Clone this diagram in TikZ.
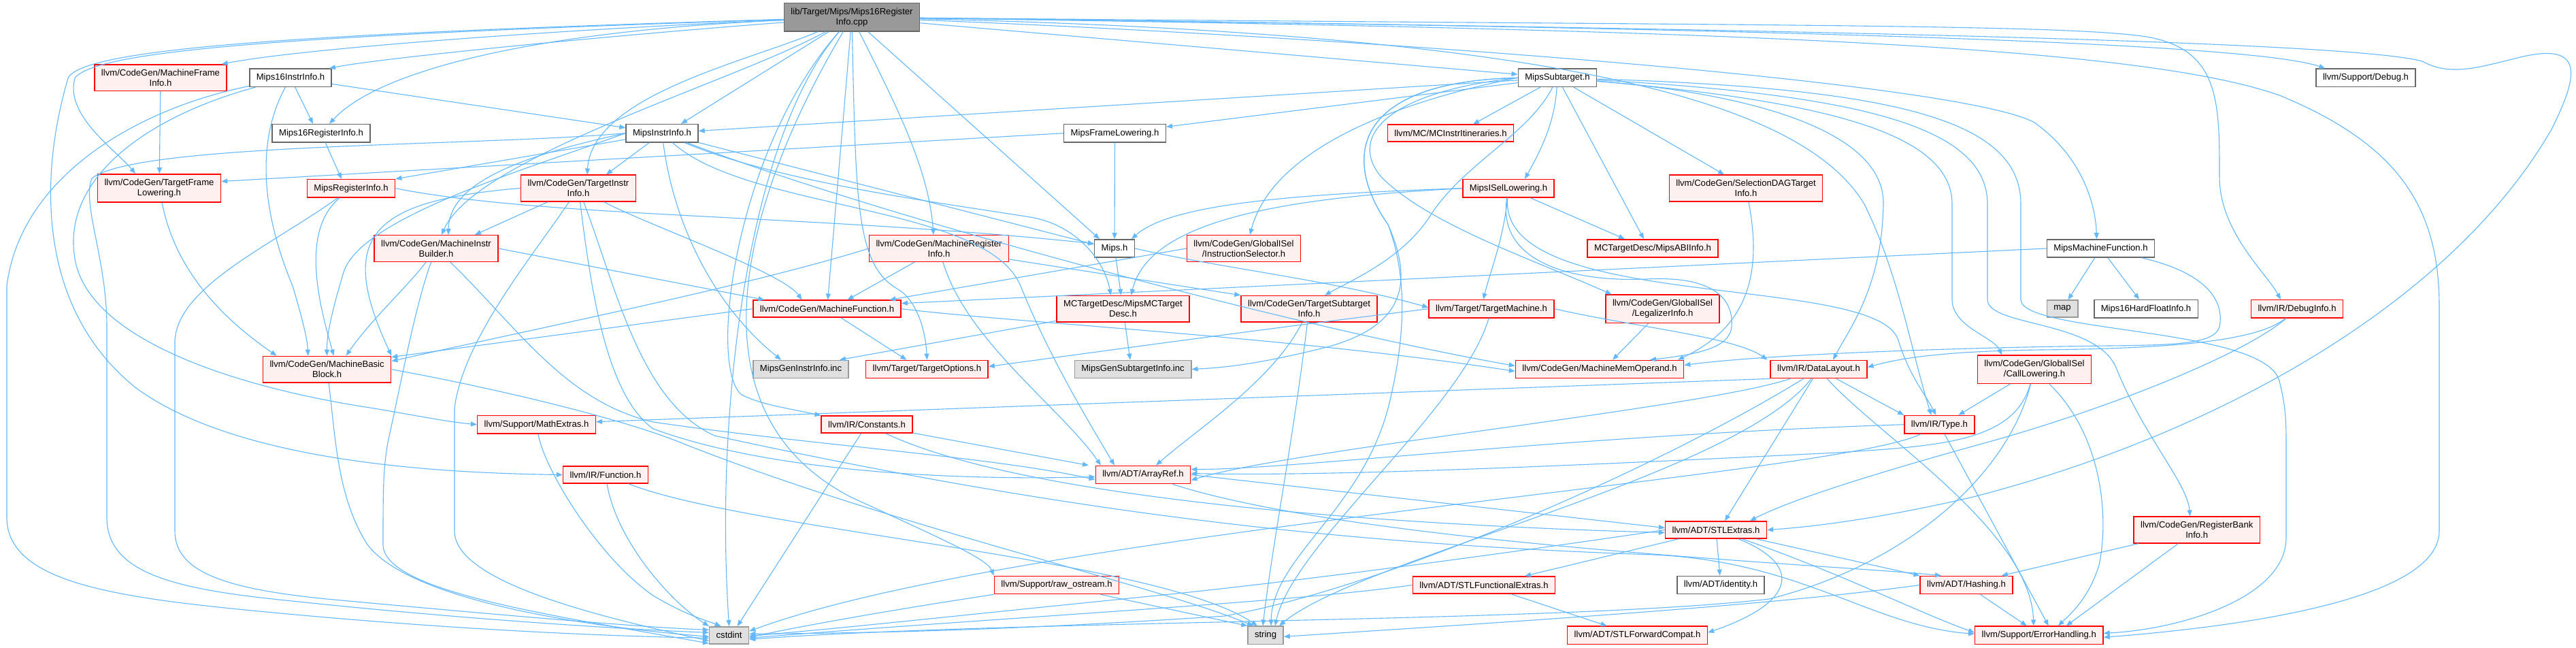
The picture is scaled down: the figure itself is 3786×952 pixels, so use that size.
\documentclass[tikz,border=0pt]{standalone}
\usepackage{fontspec}
\newfontfamily\dxfam{Liberation Sans}
\usetikzlibrary{arrows.meta}
\definecolor{dred}{HTML}{FF0000}
\definecolor{dredfill}{HTML}{FFF0F0}
\definecolor{dgray}{HTML}{666666}
\definecolor{dgraytwo}{HTML}{999999}
\definecolor{dgrayfill}{HTML}{E0E0E0}
\definecolor{dmain}{HTML}{999999}
\definecolor{dedge}{HTML}{63B8FF}
\tikzset{
  nb/.style={draw, line width=1.5pt, font={\dxfam\fontsize{13.1pt}{15pt}\selectfont}, align=center, inner xsep=10pt, inner ysep=7pt, minimum height=25pt},
  rn/.style={nb, draw=dred, fill=dredfill},
  wn/.style={nb, draw=dgray, fill=white},
  gn/.style={nb, draw=dgraytwo, fill=dgrayfill},
  mn/.style={nb, draw=dgray, fill=dmain},
  e/.style={draw=dedge, line width=1.1pt, -{Triangle[length=9pt,width=7pt]}},
}
\begin{document}
\begin{tikzpicture}[x=1pt,y=-1pt]
\fill[white] (0,0) rectangle (3786,952);
\useasboundingbox (0,0) rectangle (3786,952);
% nodes
\node[mn] (main) at (1252,25.3) {lib/Target/Mips/Mips16Register\\Info.cpp};
\node[rn] (mfi) at (236,114.3) {llvm/CodeGen/MachineFrame\\Info.h};
\node[wn] (m16ii) at (427,114.3) {Mips16InstrInfo.h};
\node[wn] (sub) at (2289,114.3) {MipsSubtarget.h};
\node[wn] (dbg) at (3477,114.3) {llvm/Support/Debug.h};
\node[wn] (m16ri) at (472,195.7) {Mips16RegisterInfo.h};
\node[wn] (mii) at (973,195.7) {MipsInstrInfo.h};
\node[wn] (mfl) at (1638.5,195.7) {MipsFrameLowering.h};
\node[rn] (itin) at (2132,195.7) {llvm/MC/MCInstrItineraries.h};
\node[rn] (tfl) at (234,276.5) {llvm/CodeGen/TargetFrame\\Lowering.h};
\node[rn] (mri) at (516,276.7) {MipsRegisterInfo.h};
\node[rn] (tii) at (850,276.5) {llvm/CodeGen/TargetInstr\\Info.h};
\node[rn] (isel) at (2217,276.7) {MipsISelLowering.h};
\node[rn] (sdag) at (2566,276.5) {llvm/CodeGen/SelectionDAGTarget\\Info.h};
\node[rn] (mib) at (641,365) {llvm/CodeGen/MachineInstr\\Builder.h};
\node[rn] (mreg) at (1380,365) {llvm/CodeGen/MachineRegister\\Info.h};
\node[wn] (mips) at (1638,365) {Mips.h};
\node[rn] (isl) at (1828,365) {llvm/CodeGen/GlobalISel\\/InstructionSelector.h};
\node[rn] (abi) at (2429,365) {MCTargetDesc/MipsABIInfo.h};
\node[wn] (mmf) at (3087.5,365) {MipsMachineFunction.h};
\node[rn] (mf) at (1215.5,453.7) {llvm/CodeGen/MachineFunction.h};
\node[rn] (mcd) at (1650.5,453.8) {MCTargetDesc/MipsMCTarget\\Desc.h};
\node[rn] (tsi) at (1924,453.8) {llvm/CodeGen/TargetSubtarget\\Info.h};
\node[rn] (tm) at (2192,453.7) {llvm/Target/TargetMachine.h};
\node[rn] (leg) at (2443.6,453.8) {llvm/CodeGen/GlobalISel\\/LegalizerInfo.h};
\node[gn] (map) at (3031,453.7) {map};
\node[wn] (hf) at (3154,453.7) {Mips16HardFloatInfo.h};
\node[rn] (dinfo) at (3376,453.7) {llvm/IR/DebugInfo.h};
\node[rn] (mbb) at (480.6,542.7) {llvm/CodeGen/MachineBasic\\Block.h};
\node[gn] (gii) at (1177,542.5) {MipsGenInstrInfo.inc};
\node[rn] (topt) at (1362.4,542.5) {llvm/Target/TargetOptions.h};
\node[gn] (gsi) at (1665,542.5) {MipsGenSubtargetInfo.inc};
\node[rn] (mmo) at (2351,542.5) {llvm/CodeGen/MachineMemOperand.h};
\node[rn] (dl) at (2673,542.5) {llvm/IR/DataLayout.h};
\node[rn] (cl) at (2990,542.7) {llvm/CodeGen/GlobalISel\\/CallLowering.h};
\node[rn] (mathx) at (788.5,623.7) {llvm/Support/MathExtras.h};
\node[rn] (cons) at (1274,623.7) {llvm/IR/Constants.h};
\node[rn] (type) at (2850.4,623.7) {llvm/IR/Type.h};
\node[rn] (func) at (890,697.5) {llvm/IR/Function.h};
\node[rn] (aref) at (1680,697.5) {llvm/ADT/ArrayRef.h};
\node[rn] (stle) at (2522,778.5) {llvm/ADT/STLExtras.h};
\node[rn] (rbi) at (3228.7,778.5) {llvm/CodeGen/RegisterBank\\Info.h};
\node[rn] (raw) at (1553,859.5) {llvm/Support/raw\_ostream.h};
\node[rn] (stlf) at (2181,859.5) {llvm/ADT/STLFunctionalExtras.h};
\node[wn] (ident) at (2529,859.5) {llvm/ADT/identity.h};
\node[rn] (hash) at (2890,859.5) {llvm/ADT/Hashing.h};
\node[gn] (cstd) at (1071.6,933.3) {cstdint};
\node[gn] (str) at (1860,933.3) {string};
\node[rn] (stlfc) at (2406.5,933.3) {llvm/ADT/STLForwardCompat.h};
\node[rn] (err) at (2996.8,933.3) {llvm/Support/ErrorHandling.h};
% ---------- edges: main
\draw[e] (main) .. controls (800,45) and (560,100) .. ([xshift=12pt]m16ri.north);
\draw[e] (main) .. controls (900,52) and (560,85) .. ([xshift=-4pt]m16ii.north east);
\draw[e] (main) .. controls (850,42) and (450,70) .. ([xshift=-8pt]mfi.north east);
\draw[e] (main) .. controls (500,50) and (140,70) .. (110,115) .. controls (95,170) and (170,220) .. ([xshift=-35pt]tfl.north);
\draw[e] (main) .. controls (500,48) and (120,68) .. (100,115) .. controls (60,250) and (50,450) .. (200,570) .. controls (350,680) and (650,695) .. (func.west);
\draw[e] (main) .. controls (1100,200) and (1050,600) .. (cstd.north);
\draw[e] (main) -- (sub);
\draw[e] (main) .. controls (2500,40) and (3300,60) .. ([xshift=14pt]dbg.north west);
\draw[e] (main) -- ([xshift=28pt]mii.north);
\draw[e] (main) .. controls (1100,90) and (870,140) .. ([xshift=13pt]tii.north);
\draw[e] (main) .. controls (1080,120) and (700,230) .. ([xshift=8pt]mib.north);
\draw[e] (main) .. controls (1320,160) and (1365,250) .. ([xshift=-8pt]mreg.north);
\draw[e] (main) -- ([xshift=-22pt]mips.north);
\draw[e] (main) -- (mf);
\draw[e] (main) .. controls (1258,300) and (1258,390) .. (1320,425) .. controls (1345,440) and (1360,480) .. (topt.north);
\draw[e] (main) .. controls (2000,55) and (2880,120) .. (2990,180) .. controls (3060,230) and (3080,300) .. ([xshift=-6pt]mmf.north);
\draw[e] (main) .. controls (2600,38) and (3050,35) .. (3160,55) .. controls (3262,75) and (3262,150) .. (3262,260) .. controls (3262,340) and (3330,400) .. ([xshift=-24pt]dinfo.north);
\draw[e] (main) .. controls (2600,42) and (3450,60) .. (3560,90) .. controls (3600,112) and (3640,100) .. (3700,85) .. controls (3800,60) and (3790,110) .. (3750,190) .. controls (3600,450) and (3250,640) .. (2900,730) .. controls (2750,765) and (2650,775) .. (stle.east);
\draw[e] (main) .. controls (2600,44) and (3150,70) .. (3350,140) .. controls (3520,210) and (3585,300) .. (3585,450) -- (3585,780) .. controls (3585,880) and (3300,920) .. ([yshift=-3pt]err.east);
\draw[e] (main) .. controls (2300,50) and (2650,150) .. (2740,300) .. controls (2790,400) and (2810,520) .. ([xshift=-12pt]type.north);
\draw[e] (main) .. controls (1080,220) and (1040,540) .. (1090,580) .. controls (1120,595) and (1160,600) .. (cons.north west);
\draw[e] (main) .. controls (1100,280) and (1000,600) .. (1250,730) .. controls (1380,790) and (1450,820) .. (raw.north west);
% ---------- Mips16InstrInfo
\draw[e] (m16ii) -- ([xshift=-12pt]m16ri.north);
\draw[e] (m16ii) -- ([yshift=8pt]mii.west);
\draw[e] (m16ii) .. controls (380,200) and (380,300) .. (430,420) .. controls (445,470) and (452,500) .. ([xshift=-28pt]mbb.north);
\draw[e] (m16ii) .. controls (220,170) and (90,260) .. (110,380) .. controls (130,500) and (350,570) .. (550,600) .. controls (620,612) and (660,620) .. (mathx.west);
\draw[e] (m16ii) .. controls (200,160) and (30,260) .. (10,420) -- (10,760) .. controls (10,850) and (150,875) .. (350,895) .. controls (650,925) and (900,935) .. ([yshift=-4pt]cstd.west);
% ---------- others rank 1-2
\draw[e] (m16ri) -- ([xshift=-14pt]mri.north);
\draw[e] (mfi) -- (tfl);
\draw[e] (mii) -- (mri.north east);
\draw[e] (mii) -- ([xshift=41pt]tii.north);
\draw[e] (mii.west) .. controls (760,230) and (660,270) .. ([xshift=18pt]mib.north);
\draw[e] (mii.west) .. controls (770,250) and (530,320) .. (505,400) .. controls (490,450) and (480,490) .. (mbb.north);
\draw[e] (mii) .. controls (1150,270) and (1400,300) .. (1520,320) .. controls (1590,335) and (1625,390) .. ([xshift=-18pt]mcd.north);
\draw[e] (mii) -- ([yshift=6pt]mips.west);
\draw[e] (mii) .. controls (990,330) and (1050,450) .. ([xshift=-29pt]gii.north);
\draw[e] (mii) .. controls (1100,310) and (1450,300) .. (1500,420) .. controls (1540,520) and (1600,620) .. ([xshift=-42pt]aref.north);
\draw[e] (mii) .. controls (1300,320) and (1900,480) .. ([yshift=5pt]mmo.west);
\draw[e] (mii.west) .. controls (700,215) and (200,210) .. (135,262) .. controls (120,300) and (157,380) .. (157,480) -- (157,760) .. controls (157,840) and (250,865) .. (420,882) .. controls (700,912) and (950,926) .. ([yshift=4pt]cstd.west);
\draw[e] (mfl.west) -- ([yshift=10pt]tfl.east);
\draw[e] (mfl) -- (mips);
% ---------- MipsSubtarget
\draw[e] (sub) -- (mii);
\draw[e] (sub) -- (mfl);
\draw[e] (sub) -- ([xshift=33pt]itin.north);
\draw[e] (sub) .. controls (2285,180) and (2265,220) .. ([xshift=24pt]isel.north);
\draw[e] (sub) -- ([xshift=-32pt]sdag.north);
\draw[e] (sub) -- ([xshift=-13pt]abi.north);
\draw[e] (sub.west) .. controls (2050,150) and (1870,220) .. ([xshift=9pt]isl.north);
\draw[e] (sub) .. controls (2245,200) and (2150,240) .. (2100,320) .. controls (2060,380) and (1990,410) .. ([xshift=23pt]tsi.north);
\draw[e] (sub.west) .. controls (2040,135) and (1980,200) .. (2030,260) .. controls (2100,330) and (2250,380) .. ([xshift=-75pt]leg.north);
\draw[e] (sub) .. controls (2700,150) and (2869,200) .. (2869,300) -- (2869,440) .. controls (2869,480) and (2930,495) .. ([xshift=-48pt]cl.north);
\draw[e] (sub) .. controls (2750,140) and (2921,190) .. (2921,300) -- (2921,440) .. controls (2921,480) and (3080,470) .. (3110,540) .. controls (3150,640) and (3215,710) .. ([xshift=-10pt]rbi.north);
\draw[e] (sub) .. controls (2800,130) and (2970,180) .. (2970,300) -- (2970,440) .. controls (2970,490) and (3330,480) .. (3350,560) .. controls (3360,600) and (3360,620) .. (3360,660) -- (3360,790) .. controls (3360,880) and (3200,925) .. ([yshift=3pt]err.east);
\draw[e] (sub) .. controls (2600,140) and (2770,200) .. (2768,300) .. controls (2766,420) and (2720,480) .. ([xshift=21pt]dl.north);
\draw[e] (sub.west) .. controls (1990,120) and (1970,230) .. (2040,330) .. controls (2070,410) and (2065,500) .. (2040,600) .. controls (2000,750) and (1870,820) .. ([xshift=8pt]str.north);
\draw[e] (sub.west) .. controls (1990,120) and (1970,230) .. (2040,330) .. controls (2080,420) and (2060,480) .. (1950,510) .. controls (1850,535) and (1800,540) .. (gsi.east);
% ---------- MipsISelLowering
\draw[e] (isel.west) .. controls (1900,285) and (1720,300) .. ([xshift=25pt]mips.north);
\draw[e] (isel.west) .. controls (1900,290) and (1690,320) .. ([xshift=12pt]mcd.north);
\draw[e] (isel) -- ([xshift=-41pt]abi.north);
\draw[e] (isel) .. controls (2210,350) and (2190,400) .. ([xshift=-12pt]tm.north);
\draw[e] (isel) .. controls (2200,380) and (2300,415) .. (2420,410) .. controls (2520,405) and (2548,440) .. (2545,480) .. controls (2542,510) and (2500,520) .. ([xshift=74pt]mmo.north);
\draw[e] (isel) .. controls (2200,460) and (2760,400) .. (2790,500) .. controls (2805,550) and (2830,580) .. ([xshift=-5pt]type.north);
\draw[e] (sdag) .. controls (2590,400) and (2570,480) .. ([xshift=115pt]mmo.north);
% ---------- rank 3-4
\draw[e] (tfl) .. controls (258,400) and (330,470) .. ([xshift=-74pt]mbb.north);
\draw[e] (mri) .. controls (440,340) and (470,450) .. ([xshift=10pt]mbb.north);
\draw[e] (mri.east) .. controls (800,320) and (1200,315) .. ([yshift=7pt]mips.west);
\draw[e] (mri) .. controls (400,360) and (262,420) .. (257,500) -- (257,780) .. controls (257,840) and (330,865) .. (480,880) .. controls (750,905) and (950,922) .. ([yshift=8pt]cstd.west);
\draw[e] (tii) -- ([xshift=57pt]mib.north);
\draw[e] (tii.west) .. controls (540,295) and (495,350) .. (mbb.north east);
\draw[e] (tii) .. controls (950,330) and (1150,400) .. ([xshift=-37pt]mf.north);
\draw[e] (tii) .. controls (868,420) and (890,580) .. (960,630) .. controls (1150,700) and (1450,705) .. ([yshift=-3pt]aref.west);
\draw[e] (tii) .. controls (905,420) and (940,590) .. (1050,640) .. controls (1600,760) and (2000,800) .. (2430,815) .. controls (2650,825) and (2750,920) .. ([yshift=2pt]err.west);
\draw[e] (tii) .. controls (780,380) and (680,500) .. (668,600) -- (668,780) .. controls (668,850) and (850,900) .. ([yshift=-8pt]cstd.west);
\draw[e] (mib) .. controls (600,420) and (545,470) .. ([xshift=28pt]mbb.north);
\draw[e] (mib.east) -- ([xshift=-92pt]mf.north);
\draw[e] (mib) .. controls (760,480) and (830,590) .. (960,620) .. controls (1200,655) and (1450,670) .. ([yshift=-7pt]aref.west);
\draw[e] (mib) .. controls (610,450) and (590,560) .. (570,650) .. controls (563,690) and (563,720) .. (563,800) .. controls (563,870) and (820,905) .. ([yshift=-12pt]cstd.west);
\draw[e] (mreg.west) .. controls (1100,420) and (800,480) .. ([yshift=-8pt]mbb.north east);
\draw[e] (mreg) -- ([xshift=30pt]mf.north);
\draw[e] (mreg) -- (tsi.north west);
\draw[e] (mreg) .. controls (1420,500) and (1560,600) .. ([xshift=-62pt]aref.north);
\draw[e] (mips) -- (mcd);
\draw[e] (mips.east) .. controls (1800,395) and (1950,410) .. ([yshift=2pt]tm.west);
\draw[e] (isl.west) -- ([xshift=92pt]mf.north);
\draw[e] (mmf) -- (map);
\draw[e] (mmf) -- ([xshift=-10pt]hf.north);
\draw[e] (mmf.west) -- ([yshift=8pt]mf.east);
\draw[e] (mmf) .. controls (3240,400) and (3270,440) .. (3262,480) .. controls (3255,505) and (3200,507) .. (3100,508) .. controls (2900,510) and (2600,520) .. ([yshift=6pt]mmo.east);
% ---------- rank 5
\draw[e] (mf.west) -- ([yshift=-2pt]mbb.north east);
\draw[e] (mf) -- ([xshift=-30pt]topt.north);
\draw[e] (mf.east) .. controls (1500,475) and (1900,495) .. ([yshift=-3pt]mmo.west);
\draw[e] (mcd) -- ([xshift=-4pt]gsi.north);
\draw[e] (mcd) -- ([xshift=57pt]gii.north);
\draw[e] (tsi) .. controls (1870,560) and (1760,630) .. ([xshift=19pt]aref.north);
\draw[e] (tsi) .. controls (1900,650) and (1870,800) .. ([xshift=-4pt]str.north);
\draw[e] (tm.west) .. controls (1900,478) and (1700,505) .. ([yshift=4pt]topt.east);
\draw[e] (tm.east) .. controls (2400,480) and (2550,495) .. ([xshift=-4pt]dl.north west);
\draw[e] (tm) .. controls (2150,600) and (1900,800) .. ([xshift=14pt]str.north);
\draw[e] (leg) -- ([xshift=19pt]mmo.north);
\draw[e] (dinfo) .. controls (3320,500) and (3200,512) .. (3000,514) .. controls (2850,516) and (2790,527) .. ([yshift=3pt]dl.east);
\draw[e] (dinfo) .. controls (3300,520) and (3100,600) .. (2920,650) .. controls (2720,705) and (2620,740) .. ([xshift=50pt]stle.north);
% ---------- rank 6+
\draw[e] (mbb) .. controls (493,640) and (495,730) .. (540,800) .. controls (600,880) and (850,920) .. ([yshift=-2pt]cstd.west);
\draw[e] (mbb.east) .. controls (700,565) and (900,610) .. (1000,650) .. controls (1300,770) and (1700,860) .. ([xshift=-18pt]str.north);
\draw[e] (mathx) .. controls (800,690) and (880,820) .. (960,875) .. controls (1010,905) and (1040,912) .. ([xshift=-12pt]cstd.north);
\draw[e] (func) .. controls (905,790) and (980,880) .. (cstd.north west);
\draw[e] (func) .. controls (1100,780) and (1700,820) .. ([xshift=-12pt]str.north);
\draw[e] (cons) -- ([xshift=12pt]cstd.north);
\draw[e] (cons) -- ([xshift=-80pt]aref.north);
\draw[e] (cons) .. controls (1500,730) and (2000,770) .. ([yshift=-4pt]stle.west);
\draw[e] (type.west) .. controls (2300,640) and (1900,690) .. ([yshift=8pt]aref.east);
\draw[e] (type) -- ([xshift=14pt]err.north);
\draw[e] (type) .. controls (2700,700) and (1500,780) .. ([yshift=6pt]cstd.east);
\draw[e] (dl.south west) -- ([yshift=4pt]mathx.east);
\draw[e] (dl) -- (type.north west);
\draw[e] (dl) -- ([xshift=13pt]stle.north);
\draw[e] (dl) .. controls (2500,600) and (1900,660) .. ([yshift=-8pt]aref.east);
\draw[e] (dl) .. controls (2450,680) and (2050,860) .. (1800,905) .. controls (1500,925) and (1300,930) .. ([yshift=2pt]cstd.east);
\draw[e] (dl) .. controls (2550,700) and (2000,820) .. ([xshift=20pt]str.north);
\draw[e] (dl) .. controls (2760,640) and (2985,780) .. ([xshift=-8pt]err.north);
\draw[e] (cl) -- ([xshift=28pt]type.north);
\draw[e] (cl) .. controls (2960,650) and (2850,655) .. (2700,665) .. controls (2300,685) and (1950,700) .. ([yshift=2pt]aref.east);
\draw[e] (cl) .. controls (3090,640) and (3100,760) .. (3085,830) .. controls (3070,880) and (3040,905) .. ([xshift=28pt]err.north);
\draw[e] (cl) .. controls (2950,700) and (2800,830) .. (2600,880) .. controls (2300,915) and (1500,910) .. ([yshift=-6pt]cstd.east);
\draw[e] (aref.east) -- ([yshift=3pt]stle.west);
\draw[e] (aref) .. controls (2000,800) and (2700,830) .. ([xshift=-37pt]hash.north);
\draw[e] (stle) -- ([xshift=60pt]stlf.north);
\draw[e] (stle) -- (ident);
\draw[e] (stle) .. controls (2650,830) and (2640,885) .. ([yshift=4pt]stlfc.east);
\draw[e] (stle) -- (hash.north west);
\draw[e] (stle) .. controls (2700,840) and (2820,900) .. ([yshift=4pt]err.west);
\draw[e] (stle.west) .. controls (2200,815) and (1900,855) .. (1700,875) .. controls (1400,905) and (1250,922) .. ([yshift=-1pt]cstd.east);
\draw[e] (rbi) -- ([xshift=52pt]hash.north);
\draw[e] (rbi) -- ([xshift=40pt]err.north);
\draw[e] (hash) -- ([xshift=-18pt]err.north);
\draw[e] (hash.west) .. controls (2600,890) and (2200,915) .. ([yshift=-2pt]str.east);
\draw[e] (raw) .. controls (1350,890) and (1200,915) .. ([yshift=-3pt]cstd.east);
\draw[e] (raw) -- (str.north west);
\draw[e] (stlf) -- ([xshift=-45pt]stlfc.north);
\draw[e] (stlf.west) .. controls (1900,885) and (1500,905) .. ([yshift=-4pt]cstd.east);
\end{tikzpicture}
\end{document}
